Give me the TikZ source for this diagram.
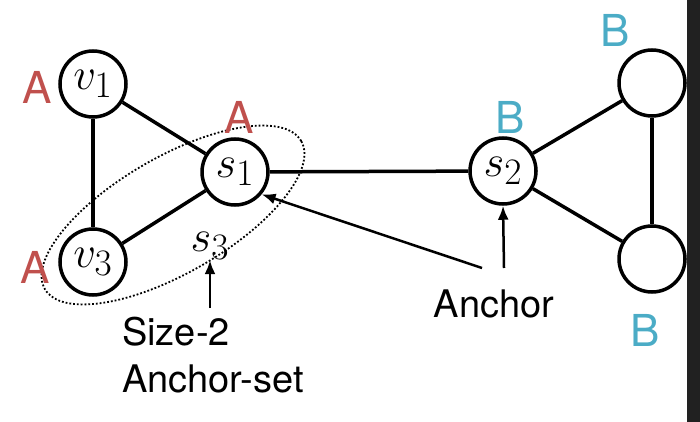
\documentclass[tikz,border=0pt]{standalone}
\usepackage{amsmath}
\usepackage{graphicx}
\usepackage{fontspec}
\setmainfont{TeX Gyre Heros}
\usepackage{tikz}
\usetikzlibrary{arrows.meta,positioning,shapes.geometric}
\definecolor{labred}{HTML}{C0504D}
\definecolor{labblue}{HTML}{4BACC6}
\newcommand{\vlab}[1]{\scalebox{1.8}{$#1$}}

\begin{document}
\begin{tikzpicture}[x=1pt, y=-1pt,
    vert/.style={draw, circle, line width=3.5pt, minimum size=66pt, inner sep=0pt, font=\fontsize{24.88}{24.88}\selectfont},
    edge/.style={line width=3.5pt},
    arr/.style={-{Latex[length=14pt,width=11pt]}, line width=2.5pt},
    lblA/.style={text=labred, inner sep=0pt, font=\fontsize{44}{44}\selectfont},
    lblB/.style={text=labblue, inner sep=0pt, font=\fontsize{44}{44}\selectfont},
    txt/.style={inner sep=0pt, font=\fontsize{38}{47}\selectfont}
  ]
    \useasboundingbox (0,0) rectangle (700,422);
    \fill[black!87] (687,0) rectangle (700,422);
    % anchor-set
    \node[draw, dotted, line width=1.8pt, ellipse, rotate=30, minimum width=296pt, minimum height=116pt, inner sep=0pt] (aset) at (173,215) {};
    \node[vert] (v1) at (93,84) {\vlab{v_1}};
    \node[vert] (v3) at (93,262) {\vlab{v_3}};
    \node[vert] (s1) at (235,172) {\vlab{s_1}};
    \node[vert] (s2) at (503,171) {\vlab{s_2}};
    \node[vert] (b1) at (652,83) {};
    \node[vert] (b2) at (652,259) {};
    \node[inner sep=0pt, font=\fontsize{24.88}{24.88}\selectfont] (s3) at (210,246) {\vlab{s_3}};
    % colour labels
    \node[lblA, left=6pt of v1, yshift=-3pt] (a1) {A};
    \node[lblA, left=8pt of v3, yshift=-5pt] (a3) {A};
    \node[lblA, above=4pt of s1, xshift=4pt] (a2) {A};
    \node[lblB, above=3pt of s2, xshift=7pt] (b0) {B};
    \node[lblB, above=2pt of b1, xshift=-37pt] (bt) {B};
    \node[lblB, below=20pt of b2, xshift=-7pt] (bb) {B};
    \draw[edge] (v1) -- (v3);
    \draw[edge] (v1) -- (s1);
    \draw[edge] (v3) -- (s1);
    \draw[edge] (s1) -- (s2);
    \draw[edge] (s2) -- (b1);
    \draw[edge] (s2) -- (b2);
    \draw[edge] (b1) -- (b2);
    % pointers
    \node[txt, anchor=base] (anc) at (494,317) {Anchor};
    \node[txt, anchor=north west, align=left] (asetlbl) at (122,317) {Size-2\\Anchor-set};
    \coordinate (p1) at (482,268);
    \coordinate (p2) at (504,268);
    \coordinate (p3) at (210,308);
    \draw[arr] (p1) -- (s1.-40);
    \draw[arr] (p2) -- (s2.south);
    \draw[arr] (p3) -- (s3.south);
  \end{tikzpicture}
\end{document}
